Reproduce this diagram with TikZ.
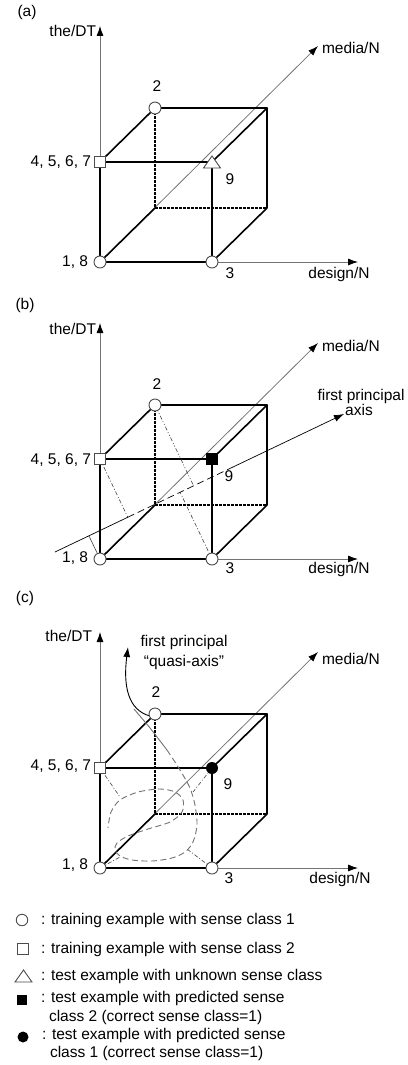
\documentclass[tikz,border=0pt]{standalone}
\usepackage{fontspec}
\setmainfont{Liberation Sans}
\usetikzlibrary{arrows.meta,calc}
\newcommand{\cubeframe}[1]{%
  \coordinate (#1O) at (100,262);
  \coordinate (#1X) at (212,262);
  \coordinate (#1Y) at (100,162);
  \coordinate (#1F) at (212,162);
  \coordinate (#1BL) at (155,208);
  \coordinate (#1BR) at (267,208);
  \coordinate (#1TL) at (155,108);
  \coordinate (#1TR) at (267,108);
  \coordinate (#1VT) at (100,26);
  \coordinate (#1DT) at (358,262);
  \coordinate (#1MT) at (318,46);
  \draw[axisline] (#1O) -- (#1VT);
  \draw[axisline] (#1X) -- (#1DT);
  \draw[axisline] (#1O) -- (#1MT);
  \draw[hidden] (#1TL) -- (#1BL) -- (#1BR);
  \draw[edge] (#1O) -- (#1X) -- (#1F) -- (#1Y) -- cycle;
  \draw[edge] (#1Y) -- (#1TL) -- (#1TR) -- (#1F);
  \draw[edge] (#1TR) -- (#1BR) -- (#1X);
  \draw[edge] (#1O) -- (#1BL);
}
\begin{document}
\begin{tikzpicture}[x=1pt,y=-1pt,
  every node/.style={inner sep=0pt,outer sep=0pt},
  lab/.style={font=\fontsize{15.5}{18}\selectfont, text height=11pt, text depth=3pt},
  axisline/.style={draw=black!55, line width=0.8pt, -{Latex[length=10pt,width=7pt,black]}},
  edge/.style={draw=black, line width=1.6pt, line cap=round, line join=round},
  hidden/.style={draw=black, line width=1.3pt, dash pattern=on 2.5pt off 1.5pt},
  opencirc/.style={circle, draw=black!70, fill=white, line width=0.9pt, minimum size=12pt},
  opensq/.style={rectangle, draw=black!70, fill=white, line width=0.9pt, minimum size=11pt},
  trimark/.style={draw=black!70, fill=white, line width=0.9pt, line join=miter},
  fillsq/.style={rectangle, fill=black, minimum size=11.5pt},
  fillcirc/.style={circle, fill=black, minimum size=12pt},
  paxis/.style={draw=black, line width=0.7pt},
  proj/.style={draw=black!75, line width=0.6pt},
  dashdotA/.style={dash pattern=on 4pt off 2pt on 1pt off 2pt},
  dashdotB/.style={dash pattern=on 4pt off 2pt on 1pt off 2pt on 1pt off 2pt},
  spiral/.style={draw=black!55, line width=0.9pt},
]
\useasboundingbox (0,0) rectangle (407,1065);

% ---------------- panel (a)
\begin{scope}
  \cubeframe{a}
  \node[opencirc] (a1) at (aO) {};
  \node[opencirc] (a3) at (aX) {};
  \node[opencirc] (a2) at (aTL) {};
  \node[opensq] (a4) at (aY) {};
  \draw[trimark] ($(aF)+(-8.5,6)$) -- ($(aF)+(8.5,6)$) -- ($(aF)+(0,-6)$) -- cycle;
  \node[lab] (alabel) at (27,13) {(a)};
  \node[lab,anchor=east] (aDTl) at (96,33) {the/DT};
  \node[lab,anchor=west] (aMl) at (322,50) {media/N};
  \node[lab] (a2l) at (157,87) {2};
  \node[lab,anchor=east] (a4l) at (91,162) {4, 5, 6, 7};
  \node[lab] (a9l) at (230,180) {9};
  \node[lab,anchor=east] (a1l) at (88,262) {1, 8};
  \node[lab] (a3l) at (230,274) {3};
  \node[lab] (aDl) at (339,274) {design/N};
\end{scope}

% ---------------- panel (b)
\begin{scope}[shift={(0,297)}]
  \cubeframe{b}
  \coordinate (bP0) at (55,255);
  \coordinate (bPT) at (344,117);
  \coordinate (bQ1) at ($(bP0)!(bY)!(bPT)$);
  \coordinate (bQ2) at ($(bP0)!0.616!(bPT)$);
  \draw[proj,dashdotA] (bY) -- ($(bP0)!(bY)!(bPT)$);
  \draw[proj] (bO) -- ($(bP0)!(bO)!(bPT)$);
  \draw[proj,dashdotB] (bTL) -- ($(bP0)!(bTL)!(bPT)$);
  \draw[proj,dashdotA] (bX) -- ($(bP0)!(bX)!(bPT)$);
  \draw[paxis] (bP0) -- (bQ1);
  \draw[paxis, dash pattern=on 7pt off 4pt] (bQ1) -- (bQ2);
  \draw[paxis, -{Latex[length=10pt,width=7pt]}] (bQ2) -- (bPT);
  \node[opencirc] (b1) at (bO) {};
  \node[opencirc] (b3) at (bX) {};
  \node[opencirc] (b2) at (bTL) {};
  \node[opensq] (b4) at (bY) {};
  \node[fillsq] (b9) at (bF) {};
  \node[lab] (blabel) at (25,8) {(b)};
  \node[lab,anchor=east] (bDTl) at (96,33) {the/DT};
  \node[lab,anchor=west] (bMl) at (322,50) {media/N};
  \node[lab] (bPl1) at (361,99) {first principal};
  \node[lab] (bPl2) at (359,114) {axis};
  \node[lab] (b2l) at (157,88) {2};
  \node[lab,anchor=east] (b4l) at (91,163) {4, 5, 6, 7};
  \node[lab] (b9l) at (229,180) {9};
  \node[lab,anchor=east] (b1l) at (88,261) {1, 8};
  \node[lab] (b3l) at (230,272) {3};
  \node[lab] (bDl) at (339,272) {design/N};
\end{scope}

% ---------------- panel (c)
\begin{scope}[shift={(0,606)}]
  \cubeframe{c}
  \coordinate (cJ) at (134,103);
  \coordinate (cS) at (167,144);
  \coordinate (cAT) at (128,41);
  \draw[proj,dashdotA] (cY) -- (120,191);
  \draw[proj,dashdotA] (cO) -- (120,251);
  \draw[proj,dashdotA] (cX) -- (187,243);
  \draw[proj,dashdotA] (cF) -- (193,186);
  \draw[spiral] plot[smooth] coordinates {(134,103) (150,122) (167,144)};
  \draw[spiral, dash pattern=on 6pt off 3.5pt] plot[smooth] coordinates {(167,144) (175,156) (183,169) (190,182) (195,199) (197,219) (193,236) (185,246) (172,252) (152,255) (132,254) (120,250) (115,244) (117,237) (128,230) (148,223) (170,216) (182,206) (183,194) (175,186) (160,183) (138,186) (120,194) (111,206) (108,222)};
  \draw[draw=black, line width=0.9pt, -{Latex[length=10pt,width=7pt]}] (150,110) .. controls (128,104) and (123,80) .. (cAT);
  \node[opencirc] (c1) at (cO) {};
  \node[opencirc] (c3) at (cX) {};
  \node[opencirc] (c2) at (cTL) {};
  \node[opensq] (c4) at (cY) {};
  \node[fillcirc] (c9) at (cF) {};
  \node[lab] (clabel) at (25,-8) {(c)};
  \node[lab,anchor=east] (cDTl) at (92,31) {the/DT};
  \node[lab,anchor=west] (cMl) at (322,54) {media/N};
  \node[lab] (cQl1) at (184,36) {first principal};
  \node[lab] (cQl2) at (184,56) {“quasi-axis”};
  \node[lab] (c2l) at (156,87) {2};
  \node[lab,anchor=east] (c4l) at (91,160) {4, 5, 6, 7};
  \node[lab] (c9l) at (228,179) {9};
  \node[lab,anchor=east] (c1l) at (88,259) {1, 8};
  \node[lab] (c3l) at (229,273) {3};
  \node[lab] (cDl) at (340,273) {design/N};
\end{scope}

% ---------------- legend
\node[opencirc, minimum size=11.5pt] (l1) at (22,920) {};
\node[opensq, minimum size=10.5pt] (l2) at (23,949) {};
\draw[trimark] (15,982) -- (32,982) -- (23.5,970) -- cycle;
\node[fillsq, minimum size=10.5pt] (l4) at (22,1000) {};
\node[fillcirc, minimum size=11pt] (l5) at (23,1037) {};
\node[lab,anchor=west] (t1) at (41,920) {: training example with sense class 1};
\node[lab,anchor=west] (t2) at (41,949) {: training example with sense class 2};
\node[lab,anchor=west] (t3) at (41,976) {: test example with unknown sense class};
\node[lab,anchor=west] (t4) at (41,998) {: test example with predicted sense};
\node[lab,anchor=west] (t4b) at (49,1017) {class 2 (correct sense class=1)};
\node[lab,anchor=west] (t5) at (42,1035) {: test example with predicted sense};
\node[lab,anchor=west] (t5b) at (50,1053) {class 1 (correct sense class=1)};
\end{tikzpicture}
\end{document}
